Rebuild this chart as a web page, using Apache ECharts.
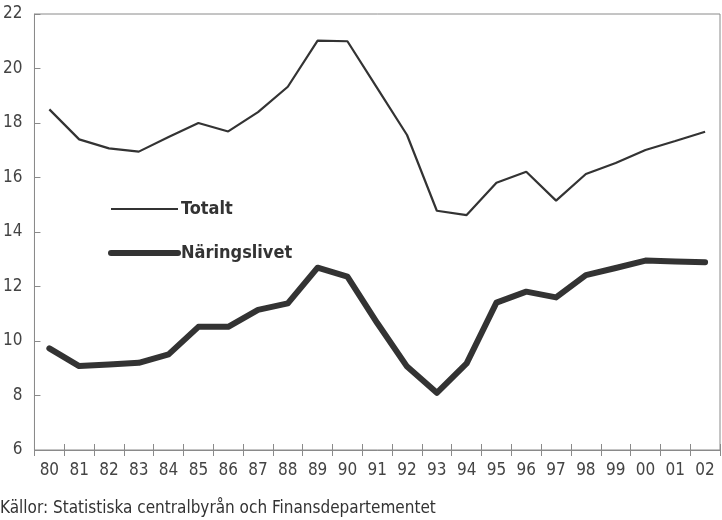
<!DOCTYPE html>
<html><head><meta charset="utf-8">
<script src="https://cdn.jsdelivr.net/npm/echarts@6/dist/echarts.min.js"></script>
<style>html,body{margin:0;padding:0;background:#fff}#c{width:722px;height:520px}</style>
</head><body><div id="c"></div>
<script>
const years = ['80','81','82','83','84','85','86','87','88','89','90','91','92','93','94','95','96','97','98','99','00','01','02'];
const totalt = [18.5,17.4,17.07,16.95,17.49,18.0,17.69,18.4,19.33,21.02,21.0,19.28,17.56,14.78,14.62,15.81,16.21,15.15,16.13,16.53,17.01,17.34,17.68];
const naringslivet = [9.73,9.08,9.14,9.2,9.51,10.52,10.52,11.14,11.38,12.69,12.36,10.66,9.06,8.1,9.18,11.41,11.81,11.6,12.42,12.68,12.95,12.92,12.89];
const yTicks = {min:6, max:22, interval:2};
const sourceText = 'Källor: Statistiska centralbyrån och Finansdepartementet';

const FONT = '"Liberation Sans Narrow","DejaVu Sans Condensed",sans-serif';
const chart = echarts.init(document.getElementById('c'), null, {renderer:'canvas'});
const axisCol = '#8a8a8a';
const clear = 'rgba(0,0,0,0)';
chart.setOption({
  animation:false,
  backgroundColor:'#fff',
  grid:{left:33, right:2, top:14, bottom:70, show:true, borderColor:axisCol, borderWidth:1},
  legend:{
    orient:'vertical', left:103, top:195, padding:5, itemWidth:67, itemHeight:14, itemGap:26,
    textStyle:{fontFamily:FONT, fontSize:18, fontWeight:'bold', color:'#333', padding:[0,0,0,-2]},
    data:[
      {name:'Totalt', itemStyle:{color:clear, borderColor:clear, borderWidth:0}, lineStyle:{width:2.2, color:'#333'}},
      {name:'Näringslivet', itemStyle:{color:clear, borderColor:clear, borderWidth:0}, lineStyle:{width:6, color:'#333'}}
    ]
  },
  xAxis:[{
    type:'category', data:years, boundaryGap:true,
    axisLine:{lineStyle:{color:axisCol}},
    axisTick:{show:true, length:6, lineStyle:{color:axisCol}},
    axisLabel:{fontFamily:FONT, fontSize:17, color:'#444', margin:12}
  },{
    type:'category', data:years, boundaryGap:true, position:'bottom',
    axisLine:{show:false},
    axisTick:{show:true, inside:true, length:6, lineStyle:{color:axisCol}},
    axisLabel:{show:false}
  }],
  yAxis:{
    type:'value', min:yTicks.min, max:yTicks.max, interval:yTicks.interval,
    axisLine:{show:true, lineStyle:{color:axisCol}},
    axisTick:{show:true, inside:true, length:6, lineStyle:{color:axisCol}},
    splitLine:{show:false},
    axisLabel:{fontFamily:FONT, fontSize:17, color:'#444', margin:12}
  },
  graphic:[{type:'text', left:0, top:500, style:{text:sourceText, font:'17px '+FONT, fill:'#333'}}],
  series:[
    {name:'Totalt', type:'line', data:totalt, symbol:'none', lineStyle:{color:'#333', width:2.2}, itemStyle:{color:'#333'}},
    {name:'Näringslivet', type:'line', data:naringslivet, symbol:'none', lineStyle:{color:'#333', width:6, cap:'round', join:'round'}, itemStyle:{color:'#333'}}
  ]
});
</script></body></html>
